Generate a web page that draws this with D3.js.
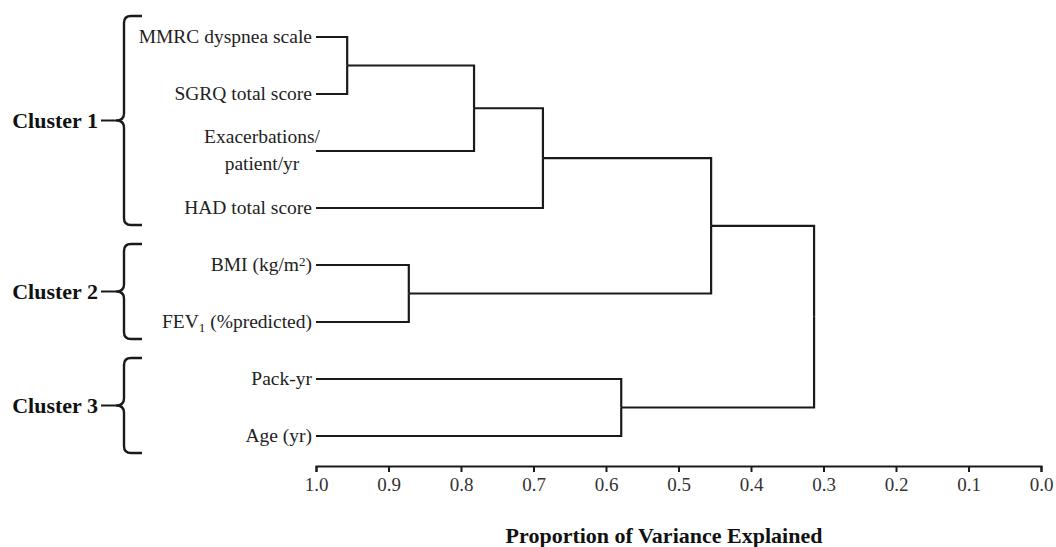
<!DOCTYPE html>
<html>
<head>
<meta charset="utf-8">
<script src="https://cdn.jsdelivr.net/npm/d3@7"></script>
<style>
  body { margin: 0; background: #fff; }
  svg { display: block; }
  .leaf-label { font-family: "Liberation Serif", "Times New Roman", serif; font-size: 19.5px; fill: #222; }
  .cluster-label { font-family: "Liberation Serif", "Times New Roman", serif; font-size: 22px; font-weight: bold; fill: #111; }
  .axis text { font-family: "Liberation Serif", "Times New Roman", serif; font-size: 19px; fill: #333; }
  .axis-title { font-family: "Liberation Serif", "Times New Roman", serif; font-size: 22px; font-weight: bold; fill: #111; }
</style>
</head>
<body>
<div id="chart"></div>
<script>
// leaves, top to bottom
const leafIds = ["mmrc", "sgrq", "exac", "had", "bmi", "fev1", "pack", "age"];
// "^" = superscript, "_" = subscript, "|" = line break
const leafLabels = ["MMRC dyspnea scale", "SGRQ total score", "Exacerbations/|patient/yr", "HAD total score",
  "BMI (kg/m^2)", "FEV_1 (%predicted)", "Pack-yr", "Age (yr)"];

// merges (agglomeration order), height = proportion of variance explained
const mergeIds   = ["n1", "n2", "n3", "n4", "n5", "n6", "root"];
const mergeLeft  = ["mmrc", "n1", "n2", "bmi", "n3", "pack", "n5"];
const mergeRight = ["sgrq", "exac", "had", "fev1", "n4", "age", "n6"];
const mergeValue = [0.957, 0.782, 0.687, 0.872, 0.455, 0.579, 0.313];

const clusterNames = ["Cluster 1", "Cluster 2", "Cluster 3"];
const clusterFirst = ["mmrc", "bmi", "pack"];
const clusterLast  = ["had", "fev1", "age"];

const axisTicks = [1.0, 0.9, 0.8, 0.7, 0.6, 0.5, 0.4, 0.3, 0.2, 0.1, 0.0];
const axisTitle = "Proportion of Variance Explained";

const width = 1056, height = 547;
const margin = {top: 37, left: 316, right: 15, bottom: 111};

const svg = d3.select('#chart').append('svg')
  .attr('width', width)
  .attr('height', height);

const x = d3.scaleLinear()
  .domain([1, 0])
  .range([margin.left, width - margin.right]);

const y = d3.scalePoint()
  .domain(leafIds)
  .range([margin.top, height - margin.bottom]);

// node positions
const nodes = {};
leafIds.forEach(id => { nodes[id] = {x: x(1), y: y(id)}; });
mergeIds.forEach((id, i) => {
  const a = nodes[mergeLeft[i]], b = nodes[mergeRight[i]];
  nodes[id] = {x: x(mergeValue[i]), y: (a.y + b.y) / 2, children: [a, b]};
});

// dendrogram links
const links = [];
mergeIds.forEach(id => {
  const n = nodes[id];
  n.children.forEach(c => links.push({source: n, target: c}));
});

svg.append('g')
  .selectAll('path')
  .data(links)
  .join('path')
  .attr('d', d => `M${d.target.x},${d.target.y}H${d.source.x}V${d.source.y}`)
  .attr('fill', 'none')
  .attr('stroke', '#1a1a1a')
  .attr('stroke-width', 2.2);

// leaf labels
const labelG = svg.append('g');
leafIds.forEach((id, i) => {
  const parts = leafLabels[i].split('|');
  if (parts.length > 1) {
    // two-line label, centred
    const t = labelG.append('text')
      .attr('class', 'leaf-label')
      .attr('text-anchor', 'middle');
    parts.forEach((p, j) => {
      t.append('tspan')
        .attr('x', 262)
        .attr('y', y(id) - 8 + j * 27)
        .text(p);
    });
    return;
  }
  const t = labelG.append('text')
    .attr('class', 'leaf-label')
    .attr('x', x(1) - 4)
    .attr('y', y(id))
    .attr('dy', '0.33em')
    .attr('text-anchor', 'end');
  // simple parser for ^x and _x
  const re = /([\^_])(\w)/g;
  let last = 0, m;
  const s = parts[0];
  while ((m = re.exec(s)) !== null) {
    if (m.index > last) t.append('tspan').text(s.slice(last, m.index));
    t.append('tspan')
      .attr('font-size', '13px')
      .attr('baseline-shift', m[1] === '^' ? '40%' : '-30%')
      .text(m[2]);
    last = m.index + m[0].length;
  }
  if (last < s.length) t.append('tspan').text(s.slice(last));
});

// cluster braces
const braceX = 124, hookX = 142, tipX = 116;
clusterNames.forEach((name, i) => {
  const top = y(clusterFirst[i]) - 21;
  const bot = y(clusterLast[i]) + 17;
  const mid = (top + bot) / 2;
  const r = 7;
  svg.append('path')
    .attr('d', `M${hookX},${top}H${braceX + r}Q${braceX},${top} ${braceX},${top + r}` +
      `V${mid - r}Q${braceX},${mid} ${tipX},${mid}Q${braceX},${mid} ${braceX},${mid + r}` +
      `V${bot - r}Q${braceX},${bot} ${braceX + r},${bot}H${hookX}`)
    .attr('fill', 'none')
    .attr('stroke', '#1a1a1a')
    .attr('stroke-width', 2.4);
  svg.append('line')
    .attr('x1', 101).attr('x2', tipX)
    .attr('y1', mid).attr('y2', mid)
    .attr('stroke', '#1a1a1a')
    .attr('stroke-width', 2);
  svg.append('text')
    .attr('class', 'cluster-label')
    .attr('x', 98)
    .attr('y', mid)
    .attr('dy', '0.33em')
    .attr('text-anchor', 'end')
    .text(name);
});

// x axis
const axisY = 466;
const xAxis = d3.axisBottom(x)
  .tickValues(axisTicks)
  .tickFormat(d3.format('.1f'))
  .tickSize(6)
  .tickPadding(6);

const axisG = svg.append('g')
  .attr('class', 'axis')
  .attr('transform', `translate(0,${axisY})`)
  .call(xAxis);
axisG.select('.domain').attr('stroke', '#1a1a1a').attr('stroke-width', 2);
axisG.selectAll('.tick line').attr('stroke', '#1a1a1a').attr('stroke-width', 2);

svg.append('text')
  .attr('class', 'axis-title')
  .attr('x', 664)
  .attr('y', 543)
  .attr('text-anchor', 'middle')
  .text(axisTitle);
</script>
</body>
</html>
